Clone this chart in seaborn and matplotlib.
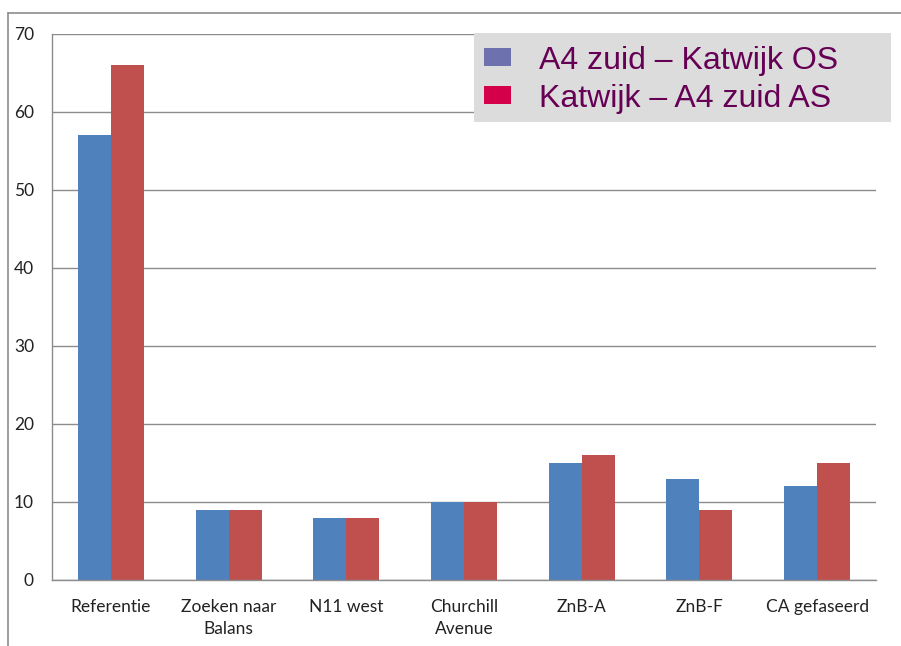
import matplotlib
matplotlib.use("Agg")
import matplotlib.pyplot as plt
import pandas as pd
import seaborn as sns
from matplotlib.lines import Line2D
from matplotlib.patches import Patch, Rectangle


categories = ["Referentie", "Zoeken naar\nBalans", "N11 west", "Churchill\nAvenue",
              "ZnB-A", "ZnB-F", "CA gefaseerd"]
series_names = ["A4 zuid \u2013 Katwijk OS", "Katwijk \u2013 A4 zuid AS"]
values_os = [57, 9, 8, 10, 15, 13, 12]
values_as = [66, 9, 8, 10, 16, 9, 15]
bar_colors = ["#4f81bd", "#c0504d"]
legend_colors = ["#6d72ae", "#d4004a"]
y_ticks = [0, 10, 20, 30, 40, 50, 60, 70]

df = pd.DataFrame({
    "category": categories * 2,
    "value": values_os + values_as,
    "series": [series_names[0]] * len(categories) + [series_names[1]] * len(categories),
})

sns.set_style("white")
plt.rcParams["font.family"] = ["Lato", "DejaVu Sans"]

W, H = 901, 646
fig = plt.figure(figsize=(W / 100, H / 100), dpi=100)
ax = fig.add_axes([52 / W, 1 - 580 / H, (876 - 52) / W, (580 - 34) / H])

sns.barplot(data=df, x="category", y="value", hue="series", order=categories,
            hue_order=series_names, palette=bar_colors, width=0.56, saturation=1,
            edgecolor="none", legend=False, ax=ax)

grid_color = "#8c8c8c"
ax.set_ylim(0, 70)
ax.set_xlim(-0.5, len(categories) - 0.5)
ax.set_yticks(y_ticks)
ax.yaxis.grid(True, color=grid_color, linewidth=1)
ax.set_axisbelow(True)
for side in ["top", "right"]:
    ax.spines[side].set_visible(False)
for side in ["left", "bottom"]:
    ax.spines[side].set_color(grid_color)
    ax.spines[side].set_linewidth(1)

ax.set_xticks(range(len(categories)))
ax.set_xticklabels(categories, fontsize=12.5, color="#222222", linespacing=1.4)
ax.set_xticks([i - 0.5 for i in range(len(categories) + 1)], minor=True)
ax.tick_params(axis="x", which="major", length=0, pad=14)
ax.tick_params(axis="x", which="minor", length=5, color=grid_color, width=1)
ax.tick_params(axis="y", length=5, color=grid_color, width=1, pad=8,
               labelsize=12.5, labelcolor="#222222")
ax.set_xlabel("")
ax.set_ylabel("")

# grey legend panel (wider than the legend entries, as in the slide)
fig.add_artist(Rectangle((474 / W, 1 - 122 / H), (891 - 474) / W, (122 - 33) / H,
                         transform=fig.transFigure, facecolor="#dcdcdc",
                         edgecolor="none", zorder=5))

handles = [Patch(facecolor=c, edgecolor="none") for c in legend_colors]
leg = fig.legend(handles, series_names, loc="upper left",
                 bbox_to_anchor=(474 / W, 1 - 36 / H),
                 prop={"family": ["Liberation Sans", "DejaVu Sans"], "size": 23},
                 frameon=False,
                 handlelength=0.85, handleheight=0.5, handletextpad=0.9,
                 labelspacing=0.25, borderpad=0.3, borderaxespad=0)
leg.set_zorder(6)
for t in leg.get_texts():
    t.set_color("#660055")

# outer frame of the slide
fig.add_artist(Line2D([8 / W, 8 / W], [0, 1 - 13 / H], color="#8c8c8c", linewidth=1.2))
fig.add_artist(Line2D([8 / W, 1], [1 - 13 / H, 1 - 13 / H], color="#8c8c8c", linewidth=1.2))

fig.savefig("out.png", dpi=100)
